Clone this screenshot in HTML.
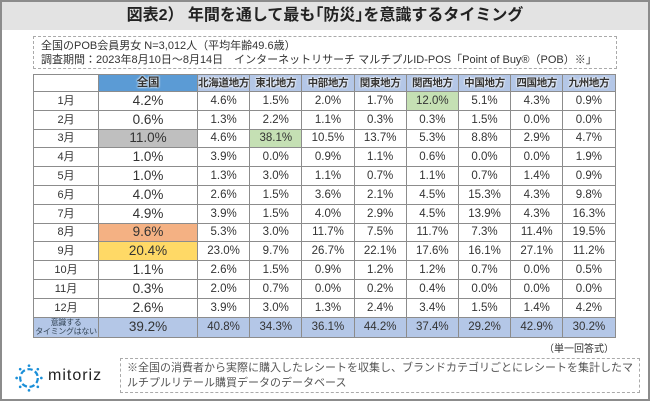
<!DOCTYPE html>
<html><head><meta charset="utf-8">
<style>
body{margin:0;width:650px;height:401px;overflow:hidden;background:#fff;font-family:"Liberation Sans","Noto Sans CJK JP",sans-serif;position:relative}
#frame{position:absolute;left:0;top:0;width:646px;height:397px;border:2px solid #8c8c8c}
#title{position:absolute;left:2px;top:2px;width:646px;height:28px;background:#e3e3e3;text-align:center;font-size:16px;font-weight:bold;line-height:28px;color:#222}
#info{position:absolute;left:33px;top:36px;width:584px;height:33px;border:1px dashed #aaa;font-size:11px;color:#333;line-height:14px;padding:2px 0 0 7px;box-sizing:border-box;white-space:nowrap}
table{position:absolute;left:33px;top:74px;border-collapse:collapse;table-layout:fixed}
td{border:1px solid #8c8c8c;padding:0;text-align:center;font-size:11.5px;color:#333;overflow:hidden;white-space:nowrap;line-height:14px}
tr{height:18.8px}
td.lab{font-size:11px}
td.nat{font-size:13.5px}
tr.hd{height:17px}
tr.hd td{background:#b4c7e7;font-weight:bold;font-size:10.5px;text-shadow:0 0 2px #fff,0 0 2px #fff;letter-spacing:-0.3px}
tr.hd td.nat{background:#5b9bd5;font-size:11.5px}
tr.hd td.blank{background:#fff}
tr.last{height:20px}
tr.last td{background:#b4c7e7}
#note{position:absolute;right:36px;top:340px;font-size:10px;color:#333}
#foot{position:absolute;left:120px;top:358px;width:520px;height:35px;border:1px dashed #aaa;font-size:11px;color:#555;line-height:15px;padding:2px 6px;box-sizing:border-box}
#logo{position:absolute;left:14px;top:363px;}
#logotext{position:absolute;left:48px;top:367px;font-size:16px;color:#222;letter-spacing:1px}
</style></head><body>
<div id="frame"></div>
<div id="title">図表2） 年間を通して最も｢防災｣を意識するタイミング</div>
<div id="info">全国のPOB会員男女 N=3,012人（平均年齢49.6歳）<br>調査期間：2023年8月10日～8月14日　インターネットリサーチ マルチプルID-POS「Point of Buy®（POB）※」</div>
<table id="tbl">
<colgroup><col style="width:65px"><col style="width:99px"><col span="8" style="width:52.2px"></colgroup>
</table>
<div id="note">（単一回答式）</div>
<svg id="logo" width="30" height="30" viewBox="0 0 34 34">
<circle cx="17" cy="17" r="10" fill="none" stroke="#1a8fd8" stroke-width="2.5" stroke-dasharray="6 3"/>
<g fill="#1a8fd8"><circle cx="17" cy="3" r="1.5"/><circle cx="17" cy="31" r="1.5"/><circle cx="3" cy="17" r="1.5"/><circle cx="31" cy="17" r="1.5"/><circle cx="7" cy="7" r="1.5"/><circle cx="27" cy="27" r="1.5"/><circle cx="27" cy="7" r="1.5"/><circle cx="7" cy="27" r="1.5"/></g>
</svg>
<div id="logotext">mitoriz</div>
<div id="foot">※全国の消費者から実際に購入したレシートを収集し、ブランドカテゴリごとにレシートを集計したマルチプルリテール購買データのデータベース</div>
<script>
const regions=["全国","北海道地方","東北地方","中部地方","関東地方","関西地方","中国地方","四国地方","九州地方"];
const rowLabels=["1月","2月","3月","4月","5月","6月","7月","8月","9月","10月","11月","12月","意識する<br>タイミングはない"];
const nationalValues=[4.2,0.6,11.0,1.0,1.0,4.0,4.9,9.6,20.4,1.1,0.3,2.6,39.2];
const hokkaido=[4.6,1.3,4.6,3.9,1.3,2.6,3.9,5.3,23.0,2.6,2.0,3.9,40.8];
const tohoku=[1.5,2.2,38.1,0.0,3.0,1.5,1.5,3.0,9.7,1.5,0.7,3.0,34.3];
const chubu=[2.0,1.1,10.5,0.9,1.1,3.6,4.0,11.7,26.7,0.9,0.0,1.3,36.1];
const kanto=[1.7,0.3,13.7,1.1,0.7,2.1,2.9,7.5,22.1,1.2,0.2,2.4,44.2];
const kansai=[12.0,0.3,5.3,0.6,1.1,4.5,4.5,11.7,17.6,1.2,0.4,3.4,37.4];
const chugoku=[5.1,1.5,8.8,0.0,0.7,15.3,13.9,7.3,16.1,0.7,0.0,1.5,29.2];
const shikoku=[4.3,0.0,2.9,0.0,1.4,4.3,4.3,11.4,27.1,0.0,0.0,1.4,42.9];
const kyushu=[0.9,0.0,4.7,1.9,0.9,9.8,16.3,19.5,11.2,0.5,0.0,4.2,30.2];
const regional=[hokkaido,tohoku,chubu,kanto,kansai,chugoku,shikoku,kyushu];
const highlights={"2-0":"#bfbfbf","7-0":"#f4b183","8-0":"#ffd966","2-2":"#c5e0b4","0-5":"#c5e0b4"};
const tbl=document.getElementById('tbl');
const hr=document.createElement('tr');hr.className='hd';


const b=document.createElement('td');b.className='blank';


hr.appendChild(b);
regions.forEach((r,j)=>{const td=document.createElement('td');td.textContent=r;if(j===0)td.className='nat';


hr.appendChild(td);});
tbl.appendChild(hr);
rowLabels.forEach((lab,i)=>{
 const tr=document.createElement('tr');if(i===rowLabels.length-1)tr.className='last';
 
 
 const l=document.createElement('td');l.className='lab';l.innerHTML=lab;
 if(i===rowLabels.length-1)l.style.cssText='font-size:8px;line-height:9px;color:#345;letter-spacing:-0.3px';
 
 
 tr.appendChild(l);
 const vals=[nationalValues[i]].concat(regional.map(a=>a[i]));
 vals.forEach((v,j)=>{const td=document.createElement('td');td.textContent=v.toFixed(1)+'%';
  if(j===0)td.className='nat';
  const h=highlights[i+'-'+j];if(h)td.style.background=h;
  
  
  tr.appendChild(td);});
 tbl.appendChild(tr);
});
</script>
</body></html>
